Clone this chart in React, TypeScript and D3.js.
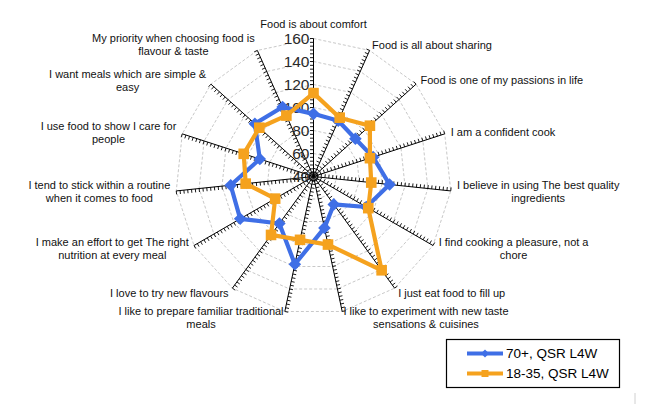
import * as d3 from "d3";
import { useEffect, useRef } from "react";

const W = 656;
const H = 404;

// axis labels, already wrapped the way the reference breaks them
const AXES: string[][] = [
  ["Food is about comfort"],
  ["Food is all about sharing"],
  ["Food is one of my passions in life"],
  ["I am a confident cook"],
  ["I believe in using The best quality", "ingredients"],
  ["I find cooking a pleasure, not a", "chore"],
  ["I just eat food to fill up"],
  ["I like to experiment with new taste", "sensations & cuisines"],
  ["I like to prepare familiar traditional", "meals"],
  ["I love to try new flavours"],
  ["I make an effort to get The right", "nutrition at every meal"],
  ["I tend to stick within a routine", "when it comes to food"],
  ["I use food to show I care for", "people"],
  ["I want meals which are simple &", "easy"],
  ["My priority when choosing food is", "flavour & taste"],
];

const OLD = [94.5, 93, 89, 94.5, 106.5, 93, 70, 85.7, 118, 90.5, 113.6, 112.4, 89.1, 108.6, 106.1];
const YOUNG = [112.5, 96, 106, 91.6, 90.5, 95, 140.8, 100.5, 96.3, 102.8, 78.5, 99.3, 103.8, 103.4, 98];

const SERIES = [
  { name: "70+, QSR L4W", values: OLD, color: "#3f6fe6", marker: "diamond" },
  { name: "18-35, QSR L4W", values: YOUNG, color: "#f5a21e", marker: "square" },
];

const TICKS = [40, 60, 80, 100, 120, 140, 160];
const FONT = "'Liberation Sans', Arial, sans-serif";

export default function App() {
  const svgRef = useRef<SVGSVGElement>(null);

  useEffect(() => {
    const svg = d3.select(svgRef.current);
    svg.selectAll("*").remove();

    const cx = 313.5;
    const cy = 176.5;
    const r = d3.scaleLinear().domain([40, 160]).range([0, 138]);
    const n = AXES.length;
    const ang = d3.scaleLinear().domain([0, n]).range([0, 2 * Math.PI]);
    const pt = (i: number, v: number): [number, number] => {
      const a = ang(i);
      return [cx + r(v) * Math.sin(a), cy - r(v) * Math.cos(a)];
    };

    const g = svg.append("g");

    // dashed polygon rings
    TICKS.slice(1).forEach((t) => {
      g.append("path")
        .attr("d", d3.line()(d3.range(n).map((i) => pt(i, t))) + "Z")
        .attr("fill", "none")
        .attr("stroke", "#c8c8c8")
        .attr("stroke-width", 1)
        .attr("stroke-dasharray", "3,2");
    });

    // spokes with minor ticks on the left side
    const minor = d3.range(40 + 20 / 6, 160.01, 20 / 6);
    AXES.forEach((_, i) => {
      const a = ang(i);
      const [x1, y1] = pt(i, 160);
      g.append("line")
        .attr("x1", cx)
        .attr("y1", cy)
        .attr("x2", x1)
        .attr("y2", y1)
        .attr("stroke", "#000")
        .attr("stroke-width", 1);
      const px = -Math.cos(a);
      const py = -Math.sin(a);
      minor.forEach((v) => {
        const [x, y] = pt(i, v);
        g.append("line")
          .attr("x1", x)
          .attr("y1", y)
          .attr("x2", x + px * 3.5)
          .attr("y2", y + py * 3.5)
          .attr("stroke", "#000")
          .attr("stroke-width", 0.9);
      });
    });

    // value labels on the top spoke
    TICKS.forEach((t) => {
      g.append("text")
        .attr("x", cx - 4)
        .attr("y", cy - r(t))
        .attr("text-anchor", "end")
        .attr("dominant-baseline", "central")
        .attr("font-family", FONT)
        .attr("font-size", 15.5)
        .attr("fill", "#2a2a2a")
        .text(t);
    });

    // category labels
    AXES.forEach((lines, i) => {
      const a = ang(i);
      const s = Math.sin(a);
      const c = Math.cos(a);
      const [ex, ey] = pt(i, 160);
      const lh = 13;
      const t = g
        .append("text")
        .attr("font-family", FONT)
        .attr("font-size", 11)
        .attr("fill", "#111")
        .attr("text-anchor", "middle");
      lines.forEach((l, k) => {
        t.append("tspan")
          .attr("x", 0)
          .attr("y", (k - (lines.length - 1) / 2) * lh)
          .attr("dominant-baseline", "central")
          .text(l);
      });
      const w = (t.node() as SVGTextElement).getBBox().width;
      let x = ex;
      if (s > 0.05) x = ex + s * 6 + w / 2;
      else if (s < -0.05) x = ex + s * 6 - w / 2;
      let y = ey - c * 6;
      if (Math.abs(s) < 0.05) y = ey - c * (8 + (lines.length * lh) / 2);
      t.attr("transform", `translate(${x},${y})`);
    });

    const marker = (sel: d3.Selection<SVGGElement, unknown, null, undefined>, kind: string, x: number, y: number, size: number, color: string) => {
      if (kind === "diamond") {
        sel.append("path")
          .attr("d", `M${x},${y - size}L${x + size},${y}L${x},${y + size}L${x - size},${y}Z`)
          .attr("fill", color);
      } else {
        sel.append("rect")
          .attr("x", x - size)
          .attr("y", y - size)
          .attr("width", size * 2)
          .attr("height", size * 2)
          .attr("fill", color);
      }
    };

    SERIES.forEach((sr) => {
      const pts = sr.values.map((v, i) => pt(i, v));
      g.append("path")
        .attr("d", d3.line()(pts) + "Z")
        .attr("fill", "none")
        .attr("stroke", sr.color)
        .attr("stroke-width", 4.2)
        .attr("stroke-linejoin", "round");
      const mg = g.append("g");
      pts.forEach(([x, y]) => marker(mg, sr.marker, x, y, sr.marker === "diamond" ? 6.3 : 5.3, sr.color));
    });

    // legend
    const lg = svg.append("g");
    lg.append("rect")
      .attr("x", 446.5)
      .attr("y", 339.5)
      .attr("width", 173)
      .attr("height", 48)
      .attr("fill", "#fff")
      .attr("stroke", "#000")
      .attr("stroke-width", 1.2);
    SERIES.forEach((sr, k) => {
      const y = 353.5 + k * 20;
      lg.append("line")
        .attr("x1", 467)
        .attr("x2", 503)
        .attr("y1", y)
        .attr("y2", y)
        .attr("stroke", sr.color)
        .attr("stroke-width", 4);
      marker(lg, sr.marker, 485, y, sr.marker === "diamond" ? 4 : 3.5, sr.color);
      lg.append("text")
        .attr("x", 506)
        .attr("y", y)
        .attr("dominant-baseline", "central")
        .attr("font-family", FONT)
        .attr("font-size", 13.5)
        .attr("fill", "#000")
        .text(sr.name);
    });

    svg.append("line")
      .attr("x1", 635)
      .attr("x2", 635)
      .attr("y1", 393)
      .attr("y2", 404)
      .attr("stroke", "#d0d0d0")
      .attr("stroke-width", 1);
  }, []);

  return (
    <div style={{ position: "absolute", left: 0, top: 0, width: W, height: H, background: "#fff" }}>
      <svg ref={svgRef} width={W} height={H} style={{ display: "block" }} />
    </div>
  );
}
